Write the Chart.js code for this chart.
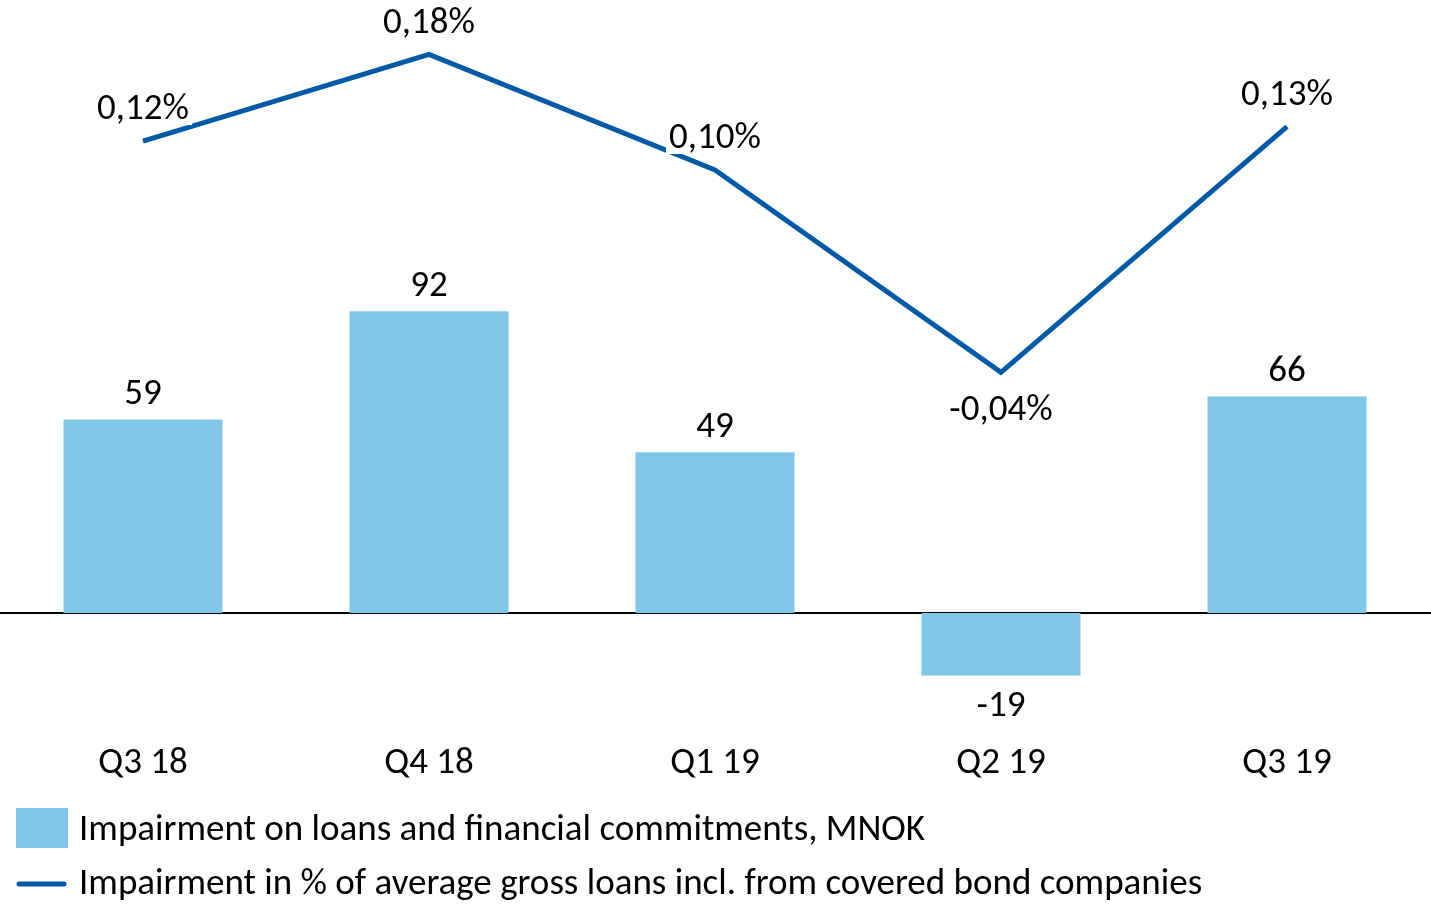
<!DOCTYPE html>
<html>
<head>
<meta charset="utf-8">
<script src="https://cdn.jsdelivr.net/npm/chart.js@4/dist/chart.umd.min.js"></script>
<style>
  html, body { margin: 0; padding: 0; background: #ffffff; }
  #wrap { width: 1431px; height: 905px; position: relative; }
</style>
</head>
<body>
<div id="wrap"><canvas id="c" width="1431" height="905"></canvas></div>
<script>
const categories = ['Q3 18', 'Q4 18', 'Q1 19', 'Q2 19', 'Q3 19'];
const impairmentMNOK = [59, 92, 49, -19, 66];
const impairmentPct = [0.12, 0.18, 0.10, -0.04, 0.13];
const seriesNames = [
  'Impairment on loans and financial commitments, MNOK',
  'Impairment in % of average gross loans incl. from covered bond companies'
];

const BAR_COLOR = '#7fc6e8';
const LINE_COLOR = '#005aa5';
const FONT_FAMILY = 'Carlito, Calibri, Lato, sans-serif';
const FONT_SIZE = 37;

function fmtPct(v) { return v.toFixed(2).replace('.', ',') + '%'; }

const zeroLinePlugin = {
  id: 'zeroLine',
  beforeDatasetsDraw(chart) {
    const y = chart.scales.y.getPixelForValue(0);
    const ctx = chart.ctx;
    ctx.save();
    ctx.strokeStyle = '#000000';
    ctx.lineWidth = 2;
    ctx.beginPath();
    ctx.moveTo(0, y);
    ctx.lineTo(chart.width, y);
    ctx.stroke();
    ctx.restore();
  }
};

const labelsPlugin = {
  id: 'valueLabels',
  afterDatasetsDraw(chart) {
    const ctx = chart.ctx;
    ctx.save();
    ctx.font = FONT_SIZE + 'px ' + FONT_FAMILY;
    ctx.textAlign = 'center';
    ctx.textBaseline = 'middle';
    // bar labels
    chart.getDatasetMeta(0).data.forEach((el, i) => {
      const v = impairmentMNOK[i];
      const y = v >= 0 ? el.y - 25 : el.y + 31;
      ctx.fillStyle = '#000000';
      ctx.fillText(String(v), el.x, y);
    });
    // line labels (white label fill, as in the original)
    chart.getDatasetMeta(1).data.forEach((el, i) => {
      const v = impairmentPct[i];
      const txt = fmtPct(v);
      const y = v >= 0 ? el.y - 31 : el.y + 38;
      const w = ctx.measureText(txt).width;
      ctx.fillStyle = '#ffffff';
      ctx.fillRect(el.x - w / 2 - 3, y - 15, w + 6, 30);
      ctx.fillStyle = '#000000';
      ctx.fillText(txt, el.x, y);
    });
    ctx.restore();
  }
};

const legendPlugin = {
  id: 'customLegend',
  afterDraw(chart) {
    const ctx = chart.ctx;
    ctx.save();
    ctx.fillStyle = BAR_COLOR;
    ctx.fillRect(16, 808, 52, 40);
    ctx.strokeStyle = LINE_COLOR;
    ctx.lineWidth = 5;
    ctx.lineCap = 'round';
    ctx.beginPath();
    ctx.moveTo(19, 884);
    ctx.lineTo(64, 884);
    ctx.stroke();
    ctx.font = FONT_SIZE + 'px ' + FONT_FAMILY;
    ctx.fillStyle = '#000000';
    ctx.textAlign = 'left';
    ctx.textBaseline = 'middle';
    ctx.fillText(seriesNames[0], 79, 831);
    ctx.fillText(seriesNames[1], 79, 885);
    ctx.restore();
  }
};

new Chart(document.getElementById('c'), {
  data: {
    labels: categories,
    datasets: [
      {
        type: 'bar',
        label: seriesNames[0],
        data: impairmentMNOK,
        backgroundColor: BAR_COLOR,
        borderWidth: 0,
        barPercentage: 0.556,
        categoryPercentage: 1,
        yAxisID: 'y',
        order: 2
      },
      {
        type: 'line',
        label: seriesNames[1],
        data: impairmentPct,
        borderColor: LINE_COLOR,
        borderWidth: 5,
        pointRadius: 0,
        tension: 0,
        fill: false,
        clip: false,
        yAxisID: 'y1',
        order: 1
      }
    ]
  },
  options: {
    responsive: false,
    animation: false,
    events: [],
    layout: { padding: { top: 20, left: 0, right: 1, bottom: 125 } },
    plugins: { legend: { display: false }, tooltip: { enabled: false } },
    scales: {
      x: {
        grid: { display: false, drawTicks: false },
        border: { display: false },
        ticks: {
          color: '#000000',
          padding: 22,
          font: { family: FONT_FAMILY, size: FONT_SIZE }
        },
        afterFit(scale) { scale.height = 60; }
      },
      y: {
        display: false,
        min: -32.6,
        max: 180.8
      },
      y1: {
        display: false,
        min: -0.2806,
        max: 0.2038
      }
    }
  },
  plugins: [zeroLinePlugin, labelsPlugin, legendPlugin]
});
</script>
</body>
</html>
